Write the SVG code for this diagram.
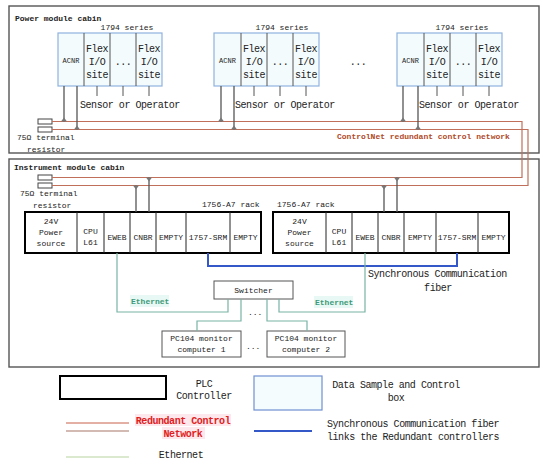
<svg xmlns="http://www.w3.org/2000/svg" width="550" height="468" viewBox="0 0 550 468">
<defs>
<style>
text{font-family:"Liberation Mono","DejaVu Sans Mono",monospace;fill:#222;}
.s8{font-size:8px;}
.s7{font-size:7px;}
.s10{font-size:10px;letter-spacing:-0.45px;}
.b{font-weight:bold;}
.c{text-anchor:middle;}
.cab{fill:none;stroke:#555;stroke-width:1.4;}
.mod{fill:#f3fbfd;stroke:#8fb2de;stroke-width:1.2;}
.div{stroke:#555;stroke-width:1;}
.rack{fill:#fff;stroke:#000;stroke-width:2;}
.rdiv{stroke:#222;stroke-width:1;}
.box{fill:#fff;stroke:#555;stroke-width:1;}
.res{fill:#fff;stroke:#444;stroke-width:1;}
.red{fill:none;stroke:#c0705a;stroke-width:1.2;}
.drop{fill:none;stroke:#555;stroke-width:1.3;}
.tick{fill:none;stroke:#555;stroke-width:1;}
.mk{fill:#777;}
.blue{fill:none;stroke:#3558c8;stroke-width:2;}
.eth{fill:none;stroke:#78b4a4;stroke-width:1.2;}
</style>
</defs>
<rect width="550" height="468" fill="#fff"/>

<!-- cabins -->
<g id="power-cabin">
<rect class="cab" x="9" y="6" width="530" height="147"/>
<text class="s8 b" x="15" y="21">Power module cabin</text>
</g>
<g id="instrument-cabin">
<rect class="cab" x="9" y="159" width="530" height="208"/>
<text class="s8 b" x="14" y="170">Instrument module cabin</text>
</g>

<!-- modules -->
<g id="module1">
<text class="s8 c" x="127" y="30">1794 series</text>
<rect class="mod" x="58" y="33" width="104" height="53"/>
<line class="div" x1="84" y1="33" x2="84" y2="86"/>
<line class="div" x1="110" y1="33" x2="110" y2="86"/>
<line class="div" x1="136" y1="33" x2="136" y2="86"/>
<text class="s7 c" x="71" y="63">ACNR</text>
<text class="s10 c" x="97" y="52">Flex</text><text class="s10 c" x="97" y="65">I/O</text><text class="s10 c" x="97" y="78">site</text>
<text class="s10 c" x="123" y="65">...</text>
<text class="s10 c" x="149" y="52">Flex</text><text class="s10 c" x="149" y="65">I/O</text><text class="s10 c" x="149" y="78">site</text>
<line class="tick" x1="97" y1="86" x2="97" y2="96"/><line class="tick" x1="123" y1="86" x2="123" y2="96"/><line class="tick" x1="149" y1="86" x2="149" y2="96"/>
<text class="s10" x="80" y="108">Sensor or Operator</text>
</g>
<g id="module2">
<text class="s8 c" x="282" y="30">1794 series</text>
<rect class="mod" x="214" y="33" width="105" height="53"/>
<line class="div" x1="241" y1="33" x2="241" y2="86"/>
<line class="div" x1="267" y1="33" x2="267" y2="86"/>
<line class="div" x1="293" y1="33" x2="293" y2="86"/>
<text class="s7 c" x="227.5" y="63">ACNR</text>
<text class="s10 c" x="254" y="52">Flex</text><text class="s10 c" x="254" y="65">I/O</text><text class="s10 c" x="254" y="78">site</text>
<text class="s10 c" x="280" y="65">...</text>
<text class="s10 c" x="306" y="52">Flex</text><text class="s10 c" x="306" y="65">I/O</text><text class="s10 c" x="306" y="78">site</text>
<line class="tick" x1="254" y1="86" x2="254" y2="96"/><line class="tick" x1="280" y1="86" x2="280" y2="96"/><line class="tick" x1="306" y1="86" x2="306" y2="96"/>
<text class="s10" x="235" y="108">Sensor or Operator</text>
</g>
<text class="s10 c" x="358" y="65">...</text>
<g id="module3">
<text class="s8 c" x="462" y="30">1794 series</text>
<rect class="mod" x="397" y="33" width="105" height="53"/>
<line class="div" x1="424" y1="33" x2="424" y2="86"/>
<line class="div" x1="450" y1="33" x2="450" y2="86"/>
<line class="div" x1="476" y1="33" x2="476" y2="86"/>
<text class="s7 c" x="410.5" y="63">ACNR</text>
<text class="s10 c" x="437" y="52">Flex</text><text class="s10 c" x="437" y="65">I/O</text><text class="s10 c" x="437" y="78">site</text>
<text class="s10 c" x="463" y="65">...</text>
<text class="s10 c" x="489" y="52">Flex</text><text class="s10 c" x="489" y="65">I/O</text><text class="s10 c" x="489" y="78">site</text>
<line class="tick" x1="437" y1="86" x2="437" y2="96"/><line class="tick" x1="463" y1="86" x2="463" y2="96"/><line class="tick" x1="489" y1="86" x2="489" y2="96"/>
<text class="s10" x="419" y="108">Sensor or Operator</text>
</g>

<!-- terminal resistors -->
<g id="resistor-top">
<rect class="res" x="38" y="119" width="14" height="5"/>
<rect class="res" x="38" y="127" width="14" height="5"/>
<text class="s8" x="17" y="140">75Ω terminal</text>
<text class="s8" x="27" y="152">resistor</text>
</g>
<g id="resistor-bottom">
<rect class="res" x="38" y="175" width="14" height="5"/>
<rect class="res" x="38" y="183" width="14" height="5"/>
<text class="s8" x="20" y="196">75Ω terminal</text>
<text class="s8" x="33" y="208">resistor</text>
</g>

<!-- racks -->
<g id="rack1">
<text class="s8" x="202" y="207">1756-A7 rack</text>
<rect class="rack" x="25" y="212" width="236" height="41"/>
<line class="rdiv" x1="77" y1="212" x2="77" y2="253"/>
<line class="rdiv" x1="104" y1="212" x2="104" y2="253"/>
<line class="rdiv" x1="130" y1="212" x2="130" y2="253"/>
<line class="rdiv" x1="156" y1="212" x2="156" y2="253"/>
<line class="rdiv" x1="186" y1="212" x2="186" y2="253"/>
<line class="rdiv" x1="230" y1="212" x2="230" y2="253"/>
<text class="s8 c" x="51" y="224">24V</text><text class="s8 c" x="51" y="235">Power</text><text class="s8 c" x="51" y="246">source</text>
<text class="s8 c" x="90.5" y="234">CPU</text><text class="s8 c" x="90.5" y="245">L61</text>
<text class="s8 c" x="117" y="240">EWEB</text>
<text class="s8 c" x="143" y="240">CNBR</text>
<text class="s8 c" x="171" y="240">EMPTY</text>
<text class="s8 c" x="208" y="240">1757-SRM</text>
<text class="s8 c" x="245.5" y="240">EMPTY</text>
</g>
<g id="rack2">
<text class="s8" x="277" y="207">1756-A7 rack</text>
<rect class="rack" x="273" y="212" width="236" height="41"/>
<line class="rdiv" x1="326" y1="212" x2="326" y2="253"/>
<line class="rdiv" x1="352" y1="212" x2="352" y2="253"/>
<line class="rdiv" x1="378" y1="212" x2="378" y2="253"/>
<line class="rdiv" x1="404" y1="212" x2="404" y2="253"/>
<line class="rdiv" x1="436" y1="212" x2="436" y2="253"/>
<line class="rdiv" x1="478" y1="212" x2="478" y2="253"/>
<text class="s8 c" x="299.5" y="224">24V</text><text class="s8 c" x="299.5" y="235">Power</text><text class="s8 c" x="299.5" y="246">source</text>
<text class="s8 c" x="339" y="234">CPU</text><text class="s8 c" x="339" y="245">L61</text>
<text class="s8 c" x="365" y="240">EWEB</text>
<text class="s8 c" x="391" y="240">CNBR</text>
<text class="s8 c" x="420" y="240">EMPTY</text>
<text class="s8 c" x="457" y="240">1757-SRM</text>
<text class="s8 c" x="493.5" y="240">EMPTY</text>
</g>

<g id="switcher">
<rect class="box" x="214" y="281" width="79" height="18"/>
<text class="s8 c" x="253.5" y="293">Switcher</text>
</g>
<g id="pc1">
<rect class="box" x="162" y="331" width="79" height="26"/>
<text class="s8 c" x="201.5" y="341">PC104 monitor</text>
<text class="s8 c" x="201.5" y="352">computer 1</text>
</g>
<g id="pc2">
<rect class="box" x="267" y="331" width="78" height="26"/>
<text class="s8 c" x="306" y="341">PC104 monitor</text>
<text class="s8 c" x="306" y="352">computer 2</text>
</g>

<!-- connectors -->
<g id="connectors">
<path class="red" d="M52,121.5 H522 V177.5 H52"/>
<path class="red" d="M52,129.5 H528 V185.5 H52"/>
<line class="drop" x1="64" y1="86" x2="64" y2="121.5"/>
<line class="drop" x1="77" y1="86" x2="77" y2="129.5"/>
<line class="drop" x1="221" y1="86" x2="221" y2="121.5"/>
<line class="drop" x1="234" y1="86" x2="234" y2="129.5"/>
<line class="drop" x1="403" y1="86" x2="403" y2="121.5"/>
<line class="drop" x1="418" y1="86" x2="418" y2="129.5"/>
<polygon class="mk" points="61,121.5 67,121.5 64,117.5"/>
<polygon class="mk" points="74,129.5 80,129.5 77,125.5"/>
<polygon class="mk" points="218,121.5 224,121.5 221,117.5"/>
<polygon class="mk" points="231,129.5 237,129.5 234,125.5"/>
<polygon class="mk" points="400,121.5 406,121.5 403,117.5"/>
<polygon class="mk" points="415,129.5 421,129.5 418,125.5"/>
<line class="drop" x1="149" y1="177.5" x2="149" y2="212"/>
<line class="drop" x1="136" y1="185.5" x2="136" y2="212"/>
<line class="drop" x1="397" y1="177.5" x2="397" y2="212"/>
<line class="drop" x1="384" y1="185.5" x2="384" y2="212"/>
<polygon class="mk" points="146,177.5 152,177.5 149,181.5"/>
<polygon class="mk" points="133,185.5 139,185.5 136,189.5"/>
<polygon class="mk" points="394,177.5 400,177.5 397,181.5"/>
<polygon class="mk" points="381,185.5 387,185.5 384,189.5"/>
<path class="blue" d="M208,253 V266 H457 V253"/>
<path class="eth" d="M117,253 V312 H228 V299"/>
<path class="eth" d="M365,253 V312 H279 V299"/>
<path class="eth" d="M241,299 V321 H197 V331"/>
<path class="eth" d="M267,299 V321 H307 V331"/>
</g>

<text class="s8 b" x="337" y="139" style="fill:#b04a2a">ControlNet redundant control network</text>
<text class="s10" x="368" y="277">Synchronous Communication</text>
<text class="s10 c" x="438" y="291">fiber</text>
<rect x="130" y="295" width="39" height="12" fill="#e8f8f4"/>
<text class="s8 b" x="131" y="304" style="fill:#3c9a78">Ethernet</text>
<rect x="314" y="296" width="39" height="12" fill="#e8f8f4"/>
<text class="s8 b" x="315" y="305" style="fill:#3c9a78">Ethernet</text>
<text class="s8" x="248" y="315">...</text>
<text class="s8" x="246" y="349">...</text>

<!-- legend -->
<g id="legend">
<rect class="rack" x="60" y="376" width="106" height="23"/>
<text class="s10 c" x="204" y="387">PLC</text>
<text class="s10 c" x="204" y="399">Controller</text>
<rect x="254" y="376" width="68" height="34" fill="#f5fcfe" stroke="#6f8fd0" stroke-width="1.2"/>
<text class="s10 c" x="396" y="388">Data Sample and Control</text>
<text class="s10 c" x="396" y="401">box</text>
<line x1="66" y1="423" x2="129" y2="423" stroke="#c8604a" stroke-width="1"/>
<line x1="66" y1="431" x2="129" y2="431" stroke="#a8786a" stroke-width="1.2"/>
<rect x="135" y="414" width="96" height="12" fill="#fde8ee"/>
<rect x="162" y="427" width="43" height="12" fill="#fde8ee"/>
<text class="s10 b c" x="183" y="424" style="fill:#e02020">Redundant Control</text>
<text class="s10 b c" x="183" y="437" style="fill:#e02020">Network</text>
<line x1="254" y1="431" x2="312" y2="431" stroke="#3558c8" stroke-width="2"/>
<text class="s10" x="327" y="427">Synchronous Communication fiber</text>
<text class="s10" x="327" y="440">links the Redundant controllers</text>
<line x1="66" y1="457" x2="129" y2="457" stroke="#b8d4a0" stroke-width="1.2"/>
<text class="s10 c" x="181" y="458">Ethernet</text>
</g>
</svg>
